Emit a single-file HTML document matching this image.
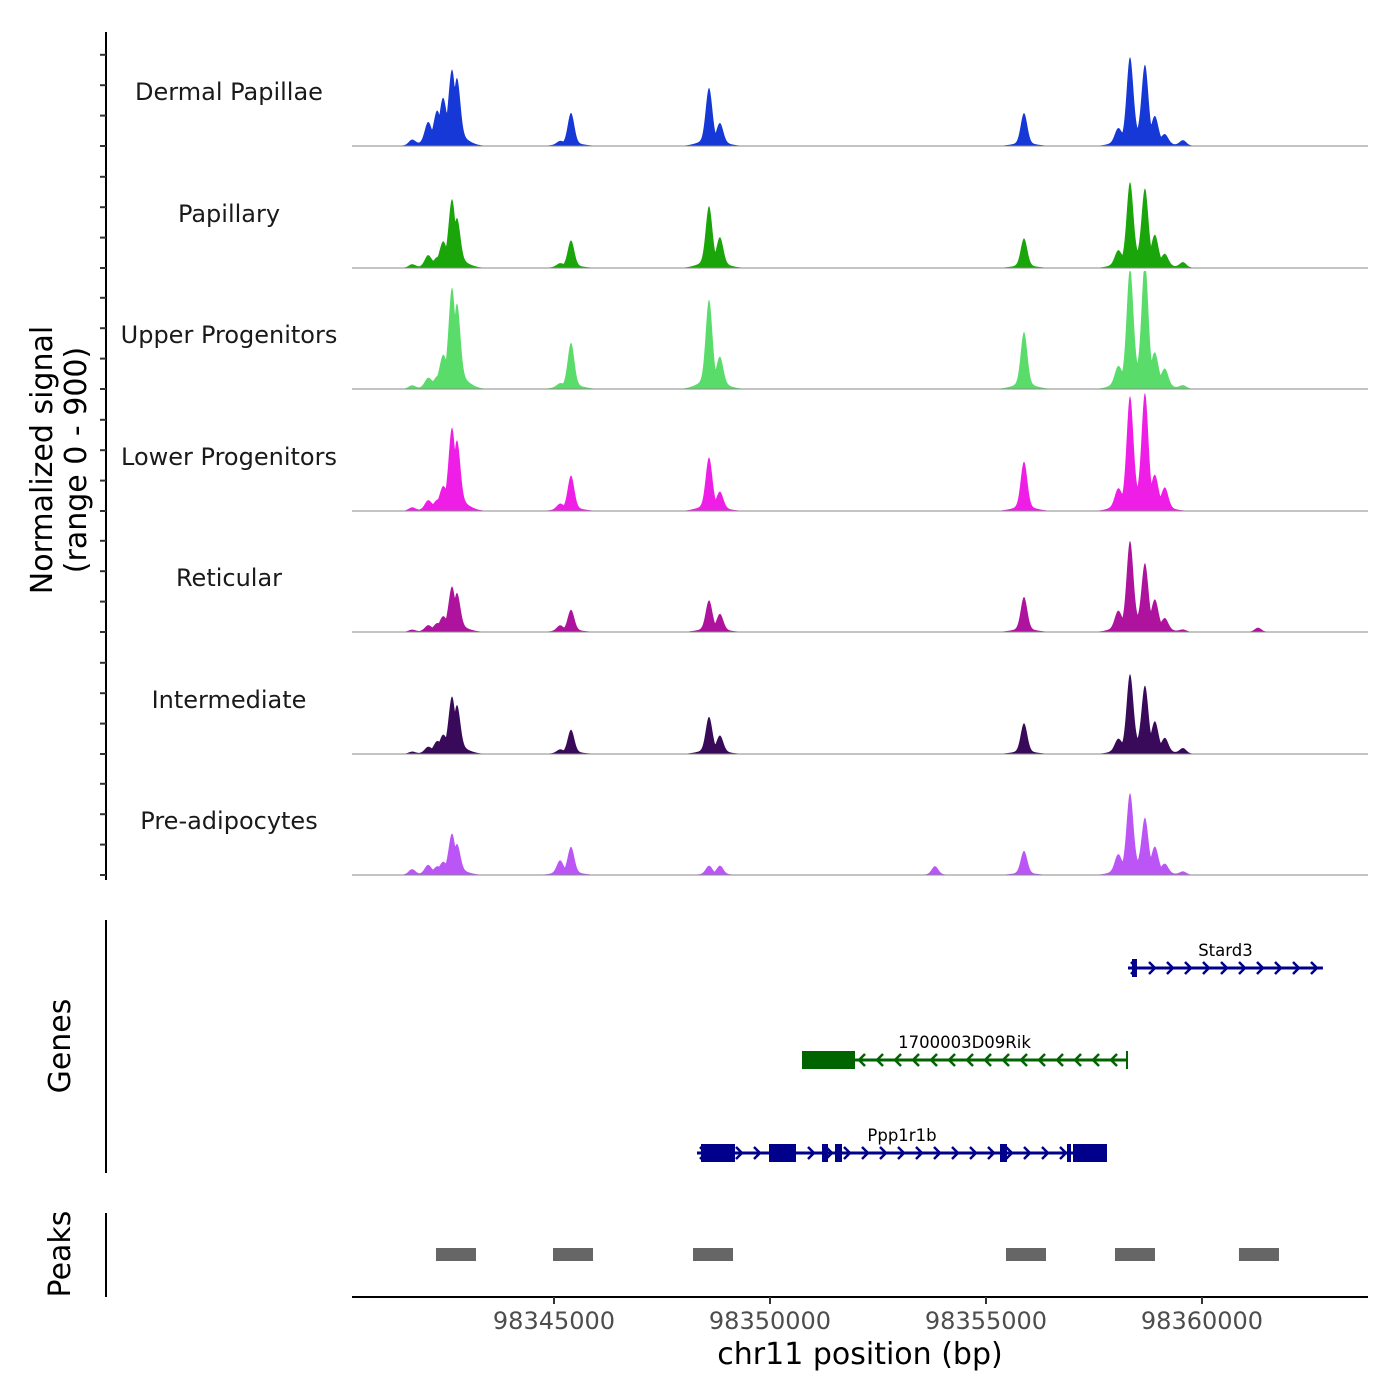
<!DOCTYPE html>
<html><head><meta charset="utf-8"><style>
html,body{margin:0;padding:0;background:#fff;width:1400px;height:1400px;overflow:hidden}
text{font-family:"DejaVu Sans","Liberation Sans",sans-serif}
</style></head><body>
<svg id="chart" width="1400" height="1400" xmlns="http://www.w3.org/2000/svg"></svg>
<script>
// ---- data ----
const trackNames = ["Dermal Papillae","Papillary","Upper Progenitors","Lower Progenitors","Reticular","Intermediate","Pre-adipocytes"];
const trackColors = ["#1538d6","#1aa60a","#5adc6a","#ee1ee6","#ad139c","#3a0a5a","#bb55f5"];
const peakPos = [98341713,98342083,98342292,98342430,98342639,98342755,98345139,98345394,98348588,98348843,98353819,98355880,98358056,98358333,98358680,98358912,98359145,98359561,98361297];
const sigDermal = [38,137,190,266,470,418,23,228,395,137,0,228,91,590,530,167,61,38,0];
const sigPapillary = [23,76,38,137,441,304,23,190,418,190,0,205,91,570,517,190,76,38,0];
const sigUpper = [23,61,38,167,646,532,23,319,608,190,0,395,114,798,836,190,114,23,0];
const sigLower = [23,61,38,114,532,441,38,243,365,114,0,342,114,760,775,190,137,0,0];
const sigReticular = [15,38,38,76,289,243,38,152,213,114,0,243,114,608,441,190,76,15,30];
const sigIntermediate = [15,38,61,91,365,304,23,167,251,114,0,213,76,532,441,190,91,38,0];
const sigPre = [38,61,38,61,266,190,91,190,61,61,61,167,114,547,365,167,61,23,0];
const signals = [sigDermal,sigPapillary,sigUpper,sigLower,sigReticular,sigIntermediate,sigPre];
const xTicks = [98345000,98350000,98355000,98360000];
const peakStarts = [98342268,98344977,98348218,98355463,98357986,98360856];
const peakEnds = [98343194,98345903,98349144,98356389,98358912,98361782];
const geneNames = ["Stard3","1700003D09Rik","Ppp1r1b"];
const geneStarts = [98358287,98350741,98348310];
const geneEnds = [98362800,98358264,98357801];
const geneStrand = [1,-1,1];
const stardExons = [[98358380,98358495]];
const rikExons = [[98350741,98351968]];
const pppExons = [[98348403,98349190],[98349977,98350602],[98351204,98351343],[98351505,98351667],[98355324,98355486],[98356875,98356968],[98357014,98357801]];
const geneExons = [stardExons,rikExons,pppExons];

// ---- scales ----
const X0=352,X1=1368,BP0=98340324,BP1=98363843;
const x = bp => X0 + (bp-BP0)/(BP1-BP0)*(X1-X0);
const baselines=[146,268,389,511,632,754,875];
const yScale = v => v/900*118;
const NS="http://www.w3.org/2000/svg";
const svg=document.getElementById('chart');
function mk(tag,attrs,parent){const e=document.createElementNS(NS,tag);for(const k in attrs)e.setAttribute(k,attrs[k]);(parent||svg).appendChild(e);return e;}

// coverage tracks
signals.forEach((sig,t)=>{
  const g=mk('g',{});
  
  
  const b=baselines[t];
  let d='M'+X0+' '+b;
  for(let px=X0;px<=X1;px+=0.5){
    const bp=BP0+(px-X0)/(X1-X0)*(BP1-BP0);
    let m=0,s=0;
    for(let i=0;i<peakPos.length;i++){const dd=bp-peakPos[i];m=Math.max(m,sig[i]*Math.exp(-dd*dd/(2*75*75)));s+=0.1*sig[i]*Math.exp(-dd*dd/(2*260*260));}
    let v=Math.min(m+s,900);
    d+=' L'+px+' '+(b-yScale(v)).toFixed(2);
  }
  d+=' L'+X1+' '+b+' Z';
  const p=mk('path',{d:d,fill:trackColors[t],stroke:'none'},g);
  
  
  const l=mk('line',{x1:X0,x2:X1,y1:b,y2:b,stroke:'#8a8a8a',"stroke-width":1},g);
  
  
  const tx=mk('text',{x:229,y:b-46,"text-anchor":"middle","font-size":24,fill:'#1a1a1a'},g);
  tx.textContent=trackNames[t];
  
  
});

// left signal axis
const ax=mk('g',{});


mk('line',{x1:106,x2:106,y1:32,y2:880,stroke:'#000',"stroke-width":2},ax);
baselines.forEach(b=>{for(let k=0;k<4;k++){const yy=b-k*30.4;if(yy>=30)mk('line',{x1:100,x2:106,y1:yy,y2:yy,stroke:'#333',"stroke-width":2},ax);}});
const yt=mk('text',{transform:'translate(52,460) rotate(-90)',"text-anchor":"middle","font-size":30,fill:'#000'});
yt.textContent='Normalized signal';


const yt2=mk('text',{transform:'translate(86,460) rotate(-90)',"text-anchor":"middle","font-size":30,fill:'#000'});
yt2.textContent='(range 0 - 900)';



// genes panel
mk('line',{x1:106,x2:106,y1:920,y2:1173,stroke:'#000',"stroke-width":2});
const gt=mk('text',{transform:'translate(70,1046) rotate(-90)',"text-anchor":"middle","font-size":30,fill:'#000'});
gt.textContent='Genes';


const geneY=[968,1060,1153];
const geneCol=["#00008b","#006400","#00008b"];
geneNames.forEach((n,i)=>{
  const g=mk('g',{});
  
  
  const y0=geneY[i],c=geneCol[i],xs=x(geneStarts[i]),xe=x(geneEnds[i]);
  mk('line',{x1:xs,x2:xe,y1:y0,y2:y0,stroke:c,"stroke-width":3},g);
  const s=geneStrand[i];
  for(let px=xs+6;px<xe-2;px+=18){
    mk('polyline',{points:`${px-3*s},${y0-6} ${px+3*s},${y0} ${px-3*s},${y0+6}`,fill:'none',stroke:c,"stroke-width":2.5},g);
  }
  geneExons[i].forEach(e=>{const a=x(e[0]),bb=x(e[1]);mk('rect',{x:a,y:y0-9,width:Math.max(bb-a,3),height:18,fill:c},g);});
  if(s<0){mk('line',{x1:xe,x2:xe,y1:y0-9,y2:y0+9,stroke:c,"stroke-width":2},g);}
  const lbl=mk('text',{x:(xs+xe)/2,y:y0-12,"text-anchor":"middle","font-size":16.5,fill:'#000'},g);
  lbl.textContent=n;
});

// peaks panel
mk('line',{x1:106,x2:106,y1:1213,y2:1297,stroke:'#000',"stroke-width":2});
const pt=mk('text',{transform:'translate(70,1254) rotate(-90)',"text-anchor":"middle","font-size":30,fill:'#000'});
pt.textContent='Peaks';


peakStarts.forEach((s,i)=>{
  const r=mk('rect',{x:x(s),y:1248,width:x(peakEnds[i])-x(s),height:13,fill:'#666'});
  
  
});

// x axis
const xa=mk('g',{});


mk('line',{x1:X0,x2:X1,y1:1297,y2:1297,stroke:'#000',"stroke-width":2},xa);
xTicks.forEach(t=>{
  mk('line',{x1:x(t),x2:x(t),y1:1297,y2:1304,stroke:'#333',"stroke-width":2},xa);
  const tl=mk('text',{x:x(t),y:1329,"text-anchor":"middle","font-size":24,fill:'#4d4d4d'},xa);
  tl.textContent=String(t);
  
  
});
const xt=mk('text',{x:860,y:1364,"text-anchor":"middle","font-size":30,fill:'#000'});
xt.textContent='chr11 position (bp)';


</script>
</body></html>
